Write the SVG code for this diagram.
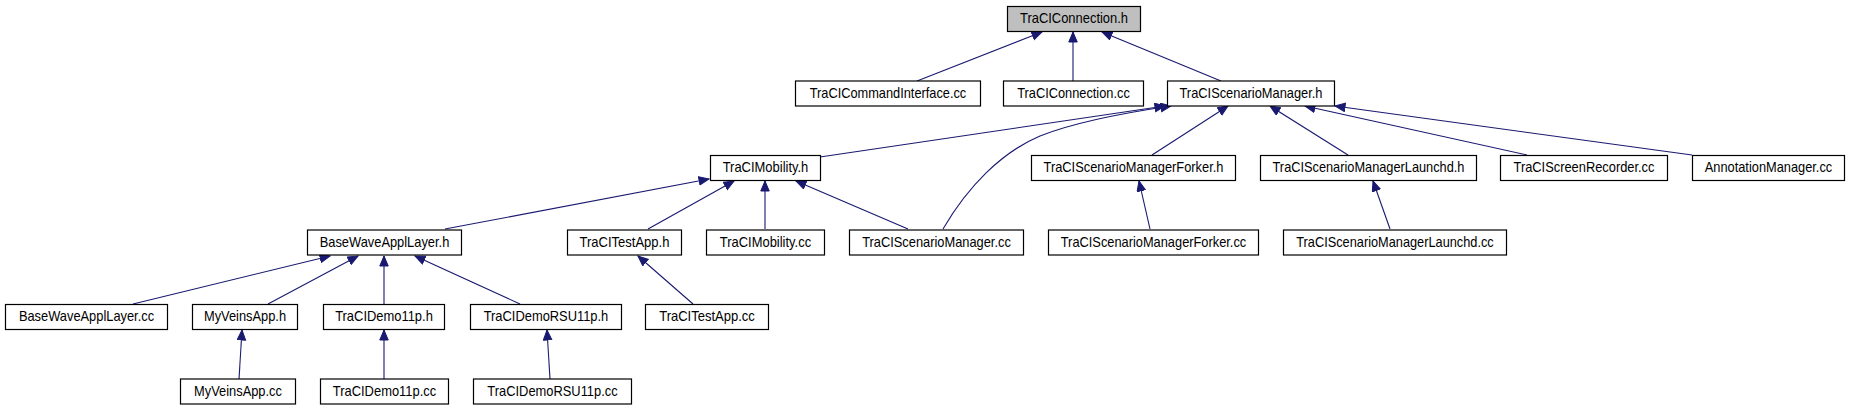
<svg xmlns="http://www.w3.org/2000/svg" width="1849" height="411" viewBox="0 0 1849 411">
<style>
.n rect{fill:#ffffff;stroke:#000000;stroke-width:1.2}
.n.root rect{fill:#bfbfbf}
.n text{font-family:"Liberation Sans",Arial,sans-serif;font-size:14.5px;text-anchor:middle;fill:#000000}
.e path{fill:none;stroke:#191970;stroke-width:1.1;marker-end:url(#ah)}
</style>
<defs>
<marker id="ah" markerUnits="userSpaceOnUse" markerWidth="12" markerHeight="10" refX="10.5" refY="4.75" orient="auto">
<path d="M0.5,0.5 L10.5,4.75 L0.5,9 z" fill="#191970" stroke="#191970" stroke-width="1"/>
</marker>
</defs>
<rect width="1849" height="411" fill="#ffffff"/>
<g id="edges" class="e">
<path d="M917,81 L1042,32"/>
<path d="M1073,81 L1073,32"/>
<path d="M1221,81 L1102,32"/>
<path d="M820,157 L1165,106"/>
<path d="M943,229 C968,186 1002,152 1040,136 C1075,122 1130,112 1171,106"/>
<path d="M1152,155 L1228,106"/>
<path d="M1348,155 L1270,106"/>
<path d="M1527,155 L1305,106"/>
<path d="M1692,155 L1335,106"/>
<path d="M445,229 L709,179"/>
<path d="M648,229 L734,181"/>
<path d="M765,229 L765,181"/>
<path d="M908,229 L796,181"/>
<path d="M1150,229 L1139,181"/>
<path d="M1390,229 L1373,181"/>
<path d="M133,304 L330,256"/>
<path d="M268,304 L358,256"/>
<path d="M384,304 L384,256"/>
<path d="M520,304 L415,256"/>
<path d="M693,304 L638,256"/>
<path d="M239,379 L242,330"/>
<path d="M384,379 L384,330"/>
<path d="M550,379 L547,330"/>
</g>
<g id="n_TraCIConnection_h" class="n root"><rect x="1007.5" y="6.5" width="133" height="25"/><text x="1074" y="23" textLength="108" lengthAdjust="spacingAndGlyphs">TraCIConnection.h</text></g>
<g id="n_TraCICommandInterface_cc" class="n"><rect x="795.5" y="81" width="185" height="25"/><text x="888" y="97.5" textLength="156.5" lengthAdjust="spacingAndGlyphs">TraCICommandInterface.cc</text></g>
<g id="n_TraCIConnection_cc" class="n"><rect x="1003.5" y="81" width="140" height="25"/><text x="1073.5" y="97.5" textLength="112.6" lengthAdjust="spacingAndGlyphs">TraCIConnection.cc</text></g>
<g id="n_TraCIScenarioManager_h" class="n"><rect x="1167.5" y="81" width="167" height="25"/><text x="1251" y="97.5" textLength="143" lengthAdjust="spacingAndGlyphs">TraCIScenarioManager.h</text></g>
<g id="n_TraCIMobility_h" class="n"><rect x="710.5" y="155.5" width="110" height="25"/><text x="765.5" y="172" textLength="85.7" lengthAdjust="spacingAndGlyphs">TraCIMobility.h</text></g>
<g id="n_TraCIScenarioManagerForker_h" class="n"><rect x="1031.5" y="155.5" width="204" height="25"/><text x="1133.5" y="172" textLength="179.8" lengthAdjust="spacingAndGlyphs">TraCIScenarioManagerForker.h</text></g>
<g id="n_TraCIScenarioManagerLaunchd_h" class="n"><rect x="1260.5" y="155.5" width="216" height="25"/><text x="1368.5" y="172" textLength="191.9" lengthAdjust="spacingAndGlyphs">TraCIScenarioManagerLaunchd.h</text></g>
<g id="n_TraCIScreenRecorder_cc" class="n"><rect x="1500.5" y="155.5" width="167" height="25"/><text x="1584" y="172" textLength="140.9" lengthAdjust="spacingAndGlyphs">TraCIScreenRecorder.cc</text></g>
<g id="n_AnnotationManager_cc" class="n"><rect x="1692.5" y="155.5" width="152" height="25"/><text x="1768.5" y="172" textLength="127.5" lengthAdjust="spacingAndGlyphs">AnnotationManager.cc</text></g>
<g id="n_BaseWaveApplLayer_h" class="n"><rect x="307.5" y="230" width="154" height="25"/><text x="384.5" y="246.5" textLength="129.6" lengthAdjust="spacingAndGlyphs">BaseWaveApplLayer.h</text></g>
<g id="n_TraCITestApp_h" class="n"><rect x="567.5" y="230" width="114" height="25"/><text x="624.5" y="246.5" textLength="89.9" lengthAdjust="spacingAndGlyphs">TraCITestApp.h</text></g>
<g id="n_TraCIMobility_cc" class="n"><rect x="706.5" y="230" width="118" height="25"/><text x="765.5" y="246.5" textLength="91.3" lengthAdjust="spacingAndGlyphs">TraCIMobility.cc</text></g>
<g id="n_TraCIScenarioManager_cc" class="n"><rect x="849.5" y="230" width="174" height="25"/><text x="936.5" y="246.5" textLength="148.7" lengthAdjust="spacingAndGlyphs">TraCIScenarioManager.cc</text></g>
<g id="n_TraCIScenarioManagerForker_cc" class="n"><rect x="1048.5" y="230" width="210" height="25"/><text x="1153.5" y="246.5" textLength="185.5" lengthAdjust="spacingAndGlyphs">TraCIScenarioManagerForker.cc</text></g>
<g id="n_TraCIScenarioManagerLaunchd_cc" class="n"><rect x="1283.5" y="230" width="223" height="25"/><text x="1395" y="246.5" textLength="197.5" lengthAdjust="spacingAndGlyphs">TraCIScenarioManagerLaunchd.cc</text></g>
<g id="n_BaseWaveApplLayer_cc" class="n"><rect x="5.5" y="304.5" width="162" height="25"/><text x="86.5" y="321" textLength="135.2" lengthAdjust="spacingAndGlyphs">BaseWaveApplLayer.cc</text></g>
<g id="n_MyVeinsApp_h" class="n"><rect x="192.5" y="304.5" width="105" height="25"/><text x="245" y="321" textLength="82.1" lengthAdjust="spacingAndGlyphs">MyVeinsApp.h</text></g>
<g id="n_TraCIDemo11p_h" class="n"><rect x="323.5" y="304.5" width="121" height="25"/><text x="384" y="321" textLength="97.7" lengthAdjust="spacingAndGlyphs">TraCIDemo11p.h</text></g>
<g id="n_TraCIDemoRSU11p_h" class="n"><rect x="470.5" y="304.5" width="151" height="25"/><text x="546" y="321" textLength="124.6" lengthAdjust="spacingAndGlyphs">TraCIDemoRSU11p.h</text></g>
<g id="n_TraCITestApp_cc" class="n"><rect x="645.5" y="304.5" width="123" height="25"/><text x="707" y="321" textLength="95.6" lengthAdjust="spacingAndGlyphs">TraCITestApp.cc</text></g>
<g id="n_MyVeinsApp_cc" class="n"><rect x="180.5" y="379" width="115" height="25"/><text x="238" y="395.5" textLength="87.8" lengthAdjust="spacingAndGlyphs">MyVeinsApp.cc</text></g>
<g id="n_TraCIDemo11p_cc" class="n"><rect x="320.5" y="379" width="128" height="25"/><text x="384.5" y="395.5" textLength="103.4" lengthAdjust="spacingAndGlyphs">TraCIDemo11p.cc</text></g>
<g id="n_TraCIDemoRSU11p_cc" class="n"><rect x="473.5" y="379" width="158" height="25"/><text x="552.5" y="395.5" textLength="130.3" lengthAdjust="spacingAndGlyphs">TraCIDemoRSU11p.cc</text></g>
</svg>
